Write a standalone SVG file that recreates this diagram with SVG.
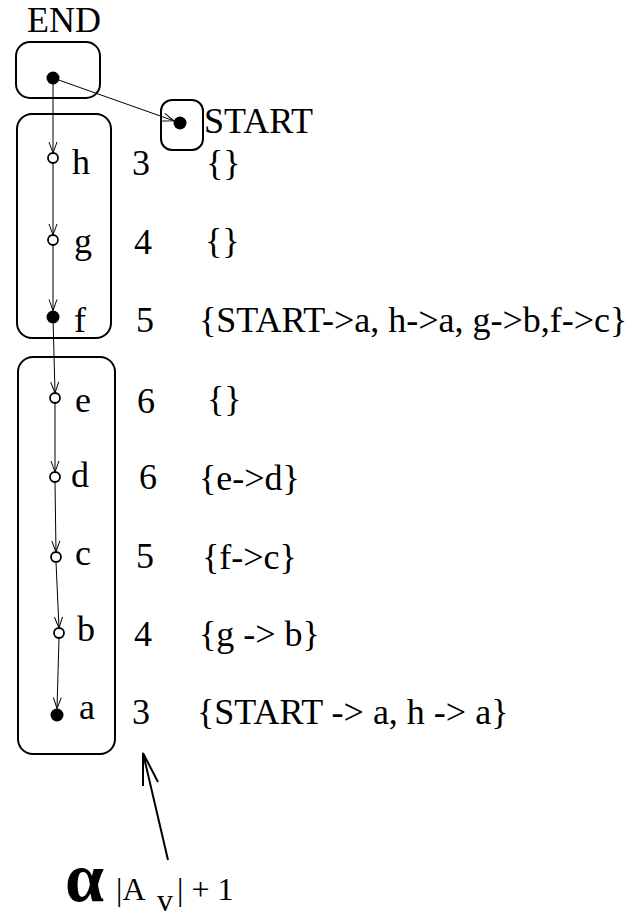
<svg xmlns="http://www.w3.org/2000/svg" width="635" height="918" viewBox="0 0 635 918">
<defs>
<style>
text{font-family:"Liberation Serif","Times New Roman",serif;font-size:36px;fill:#000}
.box{fill:none;stroke:#000;stroke-width:2}
.open{fill:#fff;stroke:#000;stroke-width:1.8}
.full{fill:#000}
.edge{fill:none;stroke:#000;stroke-width:1}
.big{fill:none;stroke:#000;stroke-width:2}
.f2{font-size:32px}
</style>
<marker id="v" markerUnits="userSpaceOnUse" markerWidth="14" markerHeight="12" refX="0" refY="0" viewBox="-12 -6 14 12" orient="auto" overflow="visible">
<path d="M-11,-4 L0,0 L-11,4" fill="none" stroke="#000" stroke-width="1"/>
</marker>
</defs>
<rect width="635" height="918" fill="#fff"/>
<g id="end">
<text x="27" y="32">END</text>
<rect class="box" x="16" y="42" width="84" height="56" rx="14"/>
<circle class="full" cx="53" cy="78" r="6.5"/>
</g>
<g id="start">
<rect class="box" x="161" y="100" width="42" height="50" rx="11"/>
<circle class="full" cx="180" cy="123" r="6.5"/>
<text x="204" y="133">START</text>
</g>
<g id="group1"><rect class="box" x="17" y="114" width="94" height="224" rx="15"/></g>
<g id="group2"><rect class="box" x="18" y="357" width="97" height="397" rx="15"/></g>
<g id="node-h"><circle class="open" cx="53" cy="158" r="5"/><text x="72" y="174">h</text><text x="132" y="175">3</text><text x="206" y="175">{}</text></g>
<g id="node-g"><circle class="open" cx="53" cy="240" r="5"/><text x="74" y="253">g</text><text x="134" y="254">4</text><text x="205" y="253">{}</text></g>
<g id="node-f"><circle class="full" cx="53" cy="317" r="6.5"/><text x="74" y="332">f</text><text x="136" y="332">5</text><text x="199" y="332">{START-&gt;a, h-&gt;a, g-&gt;b,f-&gt;c}</text></g>
<g id="node-e"><circle class="open" cx="55" cy="398" r="5"/><text x="75" y="412">e</text><text x="137" y="413">6</text><text x="207" y="411">{}</text></g>
<g id="node-d"><circle class="open" cx="55" cy="477" r="5"/><text x="71" y="487">d</text><text x="139" y="489">6</text><text x="199" y="490">{e-&gt;d}</text></g>
<g id="node-c"><circle class="open" cx="56" cy="557" r="5"/><text x="75" y="565">c</text><text x="136" y="568">5</text><text x="202" y="569">{f-&gt;c}</text></g>
<g id="node-b"><circle class="open" cx="59" cy="633" r="5"/><text x="77" y="641">b</text><text x="134" y="646">4</text><text x="199" y="646">{g -&gt; b}</text></g>
<g id="node-a"><circle class="full" cx="57" cy="715" r="6.5"/><text x="79" y="719">a</text><text x="132" y="724">3</text><text x="197" y="724">{START -&gt; a, h -&gt; a}</text></g>
<g id="connectors">
<line class="edge" x1="53" y1="78" x2="53" y2="153" marker-end="url(#v)"/>
<line class="edge" x1="53" y1="78" x2="173.9" y2="120.8" marker-end="url(#v)"/>
<line class="edge" x1="53" y1="163" x2="53" y2="235" marker-end="url(#v)"/>
<line class="edge" x1="53" y1="245" x2="53" y2="310.5" marker-end="url(#v)"/>
<line class="edge" x1="53" y1="317" x2="55" y2="393" marker-end="url(#v)"/>
<line class="edge" x1="55" y1="403" x2="55" y2="472" marker-end="url(#v)"/>
<line class="edge" x1="55" y1="482" x2="56" y2="552" marker-end="url(#v)"/>
<line class="edge" x1="56" y1="562" x2="59" y2="628" marker-end="url(#v)"/>
<line class="edge" x1="59" y1="638" x2="57" y2="708.5" marker-end="url(#v)"/>
<path class="big" d="M168,860 L143,753 M143,786 L143,753 L158,782"/>
</g>
<g id="formula">
<text x="65" y="901" style="font-size:70px;font-weight:bold">α</text>
<text class="f2" x="116" y="900">|A</text>
<text class="f2" x="157" y="911">v</text>
<text class="f2" x="177" y="900">| + 1</text>
</g>
</svg>
